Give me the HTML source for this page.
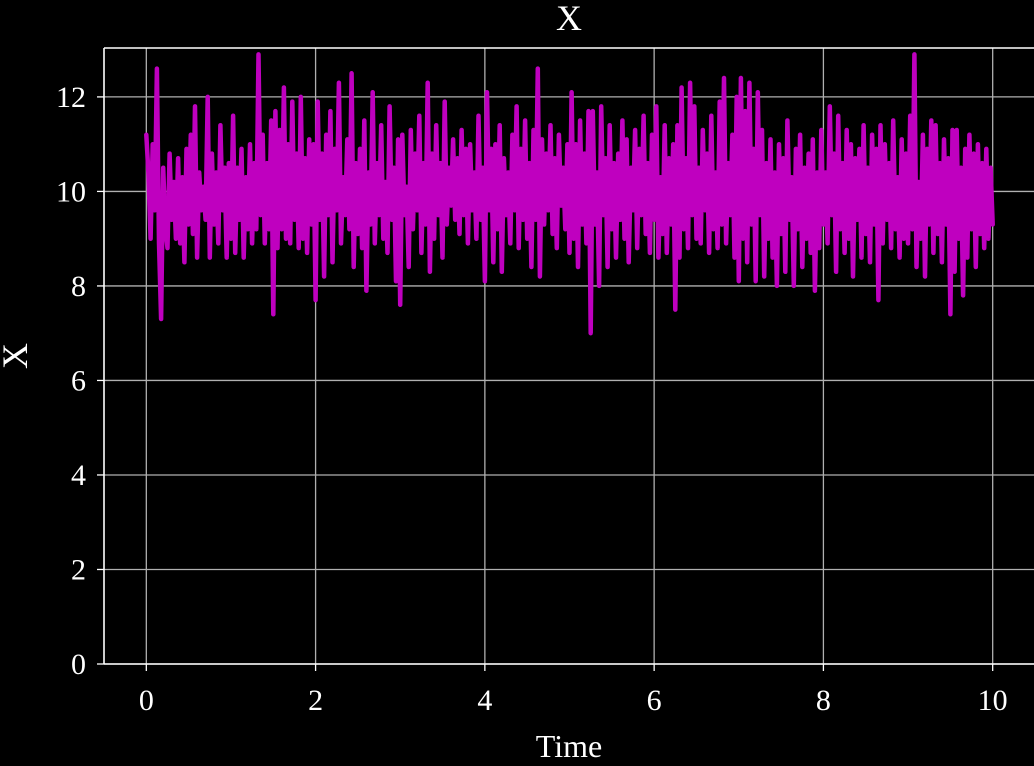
<!DOCTYPE html>
<html><head><meta charset="utf-8"><style>
html,body{margin:0;padding:0;background:#000;}
svg{display:block;font-family:"Liberation Serif",serif;}
</style></head><body>
<svg id="chart" width="1034" height="766">
<g id="grid"></g>
<g id="plot"></g>
<g id="axes"></g>
<text x="569" y="30" fill="#fff" font-size="36" text-anchor="middle">X</text>
<text x="0" y="0" fill="#fff" font-size="36" text-anchor="middle" transform="translate(27,356) rotate(-90)">X</text>
<text x="569" y="757" fill="#fff" font-size="32" text-anchor="middle">Time</text>
</svg>
<script>
const xTicks=[0,2,4,6,8,10];
const yTicks=[0,2,4,6,8,10,12];
const tStart=0, tEnd=10;
const seriesX=[
11.2,10.4,9.0,11.0,9.6,12.6,8.9,7.3,10.5,9.2,
8.8,10.8,9.4,10.2,9.0,10.7,8.9,10.3,8.5,10.9,
9.3,11.2,9.1,11.8,8.6,10.4,9.6,10.1,9.4,12.0,
8.6,10.8,9.3,10.4,8.9,11.4,9.6,10.5,8.6,10.6,
9.0,11.6,8.7,10.5,9.4,10.9,8.6,10.3,9.2,11.0,
8.9,10.6,9.2,12.9,9.5,11.2,8.9,10.6,9.2,11.5,
7.4,11.7,8.8,11.3,9.2,12.2,9.0,11.0,8.9,11.9,
9.4,10.8,8.8,12.0,9.0,10.7,8.7,11.1,9.3,11.0,
7.7,11.9,9.4,10.8,8.2,11.2,9.5,11.7,8.5,10.9,
9.6,12.3,8.9,10.3,9.5,11.1,9.2,12.5,8.4,10.6,
9.1,10.9,8.8,11.5,7.9,10.4,9.3,12.1,8.9,10.6,
9.5,11.4,9.0,10.2,8.7,11.8,9.4,10.5,8.1,11.1,
7.6,11.2,9.5,10.1,8.4,11.3,9.2,10.8,9.6,11.6,
8.7,10.6,9.3,12.3,8.3,10.8,9.0,11.4,9.5,10.6,
8.6,11.9,9.3,10.5,9.7,11.1,9.4,10.7,9.1,11.3,
9.5,10.9,8.9,11.0,9.6,10.4,9.0,11.6,9.4,10.5,
8.1,12.1,9.6,10.9,8.5,11.0,9.2,11.4,8.3,10.7,
9.5,10.4,8.9,11.2,9.6,11.8,8.8,10.9,9.4,11.5,
9.0,10.6,8.4,11.3,9.4,12.6,8.2,11.1,9.3,10.8,
9.6,11.4,9.1,10.7,8.8,11.2,9.7,10.5,9.2,11.0,
8.7,12.1,9.0,11.0,8.4,11.5,9.3,10.8,8.9,11.7,
7.0,11.7,9.3,10.4,8.0,11.8,9.5,10.7,8.4,11.4,
9.2,10.6,8.6,10.8,9.4,11.5,9.0,11.1,8.5,10.5,
9.6,11.3,8.8,10.9,9.5,11.6,9.1,10.6,8.7,11.2,
9.4,11.8,8.6,10.3,9.1,11.4,8.7,10.7,9.3,11.0,
7.5,11.4,8.6,12.2,9.2,10.7,8.8,12.3,9.5,11.8,
9.0,10.5,8.9,11.3,9.6,10.8,8.7,11.6,9.2,10.4,
8.8,11.9,9.3,12.4,8.9,10.6,9.5,11.2,8.6,12.0,
8.1,12.4,9.0,11.7,8.5,12.3,9.3,10.9,8.1,12.1,
9.5,11.3,8.2,10.6,9.0,11.1,8.6,10.4,8.0,11.0,
9.1,10.7,8.3,11.5,9.4,10.3,8.0,10.9,9.2,11.2,
8.4,10.5,9.0,10.8,8.7,11.1,7.9,10.4,8.8,11.3,
9.3,10.4,8.9,11.8,9.5,10.8,8.3,11.6,9.2,10.6,
8.7,11.3,9.0,11.0,8.2,10.7,9.4,10.9,8.6,11.4,
9.1,10.5,8.5,11.2,9.3,10.9,7.7,11.4,8.9,11.0,
9.4,10.6,8.8,11.5,9.2,10.3,8.6,11.1,9.0,10.8,
8.9,11.6,9.2,12.9,8.4,10.2,9.0,11.2,8.2,10.9,
9.3,11.5,8.7,11.4,9.1,10.6,8.5,11.1,9.3,10.7,
7.4,11.3,8.3,11.3,9.0,10.5,7.8,10.9,8.6,11.2,
9.2,10.8,8.4,11.0,9.1,10.6,8.8,10.9,9.0,10.5,9.3];
const NS='http://www.w3.org/2000/svg';
const L=104,R=1035,T=48,B=664;
const x0=-0.5,x1=10.5,y0=0,y1=13.035;
const sx=v=>L+(v-x0)/(x1-x0)*(R-L);
const sy=v=>B-(v-y0)/(y1-y0)*(B-T);
function mk(tag,attrs,parent){const e=document.createElementNS(NS,tag);for(const k in attrs)e.setAttribute(k,attrs[k]);parent.appendChild(e);return e;}
const grid=document.getElementById('grid'),plot=document.getElementById('plot'),axes=document.getElementById('axes');
xTicks.forEach(t=>{
 const g=mk('line',{x1:sx(t),x2:sx(t),y1:T,y2:B,stroke:'#b0b0b0','stroke-width':1.3},grid);
 
 
 const tk=mk('line',{x1:sx(t),x2:sx(t),y1:B,y2:B+7,stroke:'#fff','stroke-width':1.3},axes);
 
 
 const lb=mk('text',{x:sx(t),y:B+46,fill:'#fff','font-size':30,'text-anchor':'middle'},axes);
 lb.textContent=t;
 
 
});
yTicks.forEach(t=>{
 const g=mk('line',{x1:L,x2:1034,y1:sy(t),y2:sy(t),stroke:'#b0b0b0','stroke-width':1.3},grid);
 
 
 const tk=mk('line',{x1:L-7,x2:L,y1:sy(t),y2:sy(t),stroke:'#fff','stroke-width':1.3},axes);
 
 
 const lb=mk('text',{x:L-18,y:sy(t)+10,fill:'#fff','font-size':30,'text-anchor':'end'},axes);
 lb.textContent=t;
 
 
});
const n=seriesX.length;
const pts=seriesX.map((v,i)=>sx(tStart+(tEnd-tStart)*i/(n-1)).toFixed(1)+','+sy(v).toFixed(1)).join(' ');
const line=mk('polyline',{points:pts,fill:'none',stroke:'#bf00bf','stroke-width':4.5,'stroke-linejoin':'round','stroke-linecap':'round'},plot);


const sp1=mk('line',{x1:L,x2:L,y1:T,y2:B,stroke:'#fff','stroke-width':1.6},axes);


const sp2=mk('line',{x1:L,x2:1034,y1:B,y2:B,stroke:'#fff','stroke-width':1.6},axes);


const sp3=mk('line',{x1:L,x2:1034,y1:T,y2:T,stroke:'#fff','stroke-width':1.6},axes);


</script>
</body></html>
